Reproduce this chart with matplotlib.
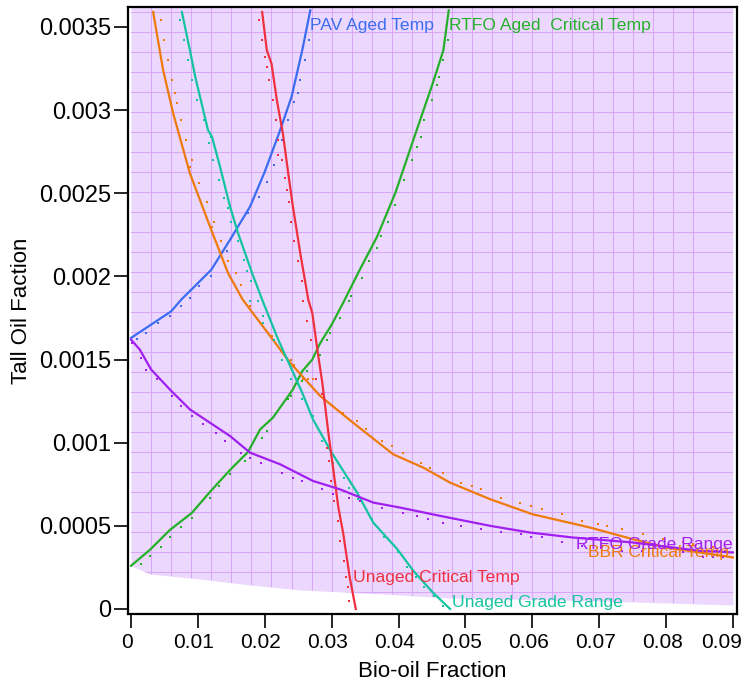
import matplotlib
matplotlib.use("Agg")
import matplotlib.pyplot as plt
import matplotlib.transforms as mtransforms
import numpy as np

plt.rcParams['font.family'] = ['Liberation Sans', 'DejaVu Sans']

# feasible region lower boundary
region_x = [0, 0.0028, 0.0103, 0.0178, 0.0253, 0.0327, 0.0402, 0.0477, 0.0551, 0.07, 0.09]
region_y = [0.00026, 0.00021, 0.00018, 0.000144, 0.000114, 0.0001, 0.000084, 0.000066, 0.00006, 0.000048, 0.000024]

# PAV Aged Temp (blue)
pav_x = [0, 0.003, 0.006, 0.0075, 0.0105, 0.012, 0.0148, 0.0178, 0.020, 0.0223, 0.024, 0.0256, 0.0268]
pav_y = [0.00163, 0.00171, 0.00179, 0.00186, 0.00198, 0.00204, 0.00222, 0.00242, 0.00263, 0.00288, 0.00308, 0.00336, 0.0036]
pav_dx = [0.0009, 0.0022, 0.004, 0.0058, 0.0075, 0.0088, 0.0102, 0.012, 0.0143, 0.0175, 0.0191, 0.0203,
          0.0214, 0.0226, 0.0235, 0.0244, 0.025, 0.0253, 0.026, 0.0266]
pav_dy = [0.001625, 0.00166, 0.00172, 0.00176, 0.00182, 0.00187, 0.00194, 0.002, 0.00215, 0.00238, 0.00248, 0.00257,
          0.00267, 0.00282, 0.00294, 0.00305, 0.0031, 0.00318, 0.0033, 0.00342]

# RTFO Aged Critical Temp (green)
rac_x = [0, 0.0028, 0.0058, 0.0091, 0.0118, 0.0148, 0.0175, 0.0193, 0.0212, 0.0242, 0.0256, 0.0271, 0.0283,
         0.030, 0.0317, 0.0342, 0.0368, 0.0395, 0.0422, 0.0451, 0.0467, 0.0475]
rac_y = [0.00026, 0.000355, 0.000475, 0.000578, 0.000704, 0.000836, 0.000945, 0.00108, 0.00115, 0.00132, 0.00143,
         0.0015, 0.0016, 0.00171, 0.00184, 0.00204, 0.00224, 0.0025, 0.00282, 0.00316, 0.00336, 0.0036]
rac_dx = [0.0015, 0.0028, 0.0045, 0.0058, 0.0075, 0.0091, 0.0118, 0.0132, 0.0148, 0.017, 0.0178, 0.0196, 0.0203,
          0.0235, 0.0239, 0.0256, 0.0263, 0.0283, 0.0293, 0.0297, 0.0312, 0.0326, 0.0329, 0.0345, 0.0356, 0.0368,
          0.0374, 0.0384, 0.0395, 0.0408, 0.042, 0.0428, 0.0433, 0.0438, 0.045, 0.0457, 0.046, 0.0466, 0.0474]
rac_dy = [0.00027, 0.00032, 0.00037, 0.00043, 0.00049, 0.00055, 0.00067, 0.00074, 0.00081, 0.00089, 0.00094,
          0.00103, 0.00107, 0.00126, 0.00128, 0.00137, 0.00143, 0.00153, 0.00162, 0.00166, 0.00175, 0.00185,
          0.00188, 0.00199, 0.00209, 0.00217, 0.00224, 0.00233, 0.00243, 0.00258, 0.0027, 0.00278, 0.00284,
          0.00294, 0.00306, 0.00315, 0.0032, 0.0033, 0.00342]

# BBR Critical Temp (orange)
bbr_x = [0.0033, 0.0048, 0.0063, 0.0088, 0.0118, 0.0145, 0.0167, 0.0197, 0.0238, 0.0283, 0.0332, 0.0392,
         0.0437, 0.0477, 0.0537, 0.060, 0.0686, 0.075, 0.080, 0.09]
bbr_y = [0.00359, 0.00324, 0.00298, 0.00262, 0.0023, 0.00202, 0.00186, 0.0017, 0.00148, 0.00128, 0.00112,
         0.00093, 0.00085, 0.00076, 0.00066, 0.00057, 0.00049, 0.00042, 0.00037, 0.00031]
bbr_dx = [0.0045, 0.0049, 0.0055, 0.0061, 0.0066, 0.0069, 0.0075, 0.0082, 0.0091, 0.0088, 0.0102, 0.0114,
          0.0124, 0.0121, 0.0135, 0.0145, 0.0157, 0.0164, 0.0178, 0.0178, 0.0197, 0.0197, 0.0211, 0.0239,
          0.0244, 0.0257, 0.0265, 0.0272, 0.0286, 0.0302, 0.0317, 0.0338, 0.0351, 0.0375, 0.039, 0.0407,
          0.0433, 0.0447, 0.0466, 0.0493, 0.051, 0.0523, 0.0553, 0.0581, 0.0598, 0.0614, 0.0644, 0.0674,
          0.0698, 0.0711, 0.0734, 0.0765, 0.0795, 0.0825, 0.084, 0.087, 0.0888]
bbr_dy = [0.00354, 0.00342, 0.0033, 0.00318, 0.0031, 0.00304, 0.00294, 0.00282, 0.0027, 0.00266, 0.00256,
          0.00245, 0.00233, 0.0023, 0.00221, 0.00209, 0.00202, 0.00195, 0.00185, 0.00182, 0.00176, 0.00172,
          0.00164, 0.0015, 0.00147, 0.00138, 0.00138, 0.00138, 0.00129, 0.00122, 0.00118, 0.00113, 0.00108,
          0.00101, 0.00098, 0.00094, 0.00088, 0.00085, 0.00082, 0.00076, 0.00074, 0.00072, 0.00067, 0.00064,
          0.00062, 0.0006, 0.00057, 0.00053, 0.00051, 0.0005, 0.00048, 0.00045, 0.00042, 0.0004, 0.00039,
          0.00037, 0.00035]

# Unaged Grade Range (teal)
ugr_x = [0.0076, 0.0088, 0.0096, 0.0115, 0.0121, 0.0133, 0.0148, 0.016, 0.0181, 0.0196, 0.022, 0.0238, 0.0256,
         0.0272, 0.030, 0.0338, 0.0362, 0.0398, 0.0422, 0.0451, 0.0477]
ugr_y = [0.00359, 0.00336, 0.0032, 0.00288, 0.00284, 0.00266, 0.00242, 0.00226, 0.00202, 0.00186, 0.00162,
         0.00146, 0.0013, 0.00114, 0.00094, 0.0007, 0.00052, 0.00036, 0.00023, 0.0001, 0.0]
ugr_dx = [0.0073, 0.0079, 0.0085, 0.0091, 0.0099, 0.0109, 0.0117, 0.012, 0.0123, 0.0132, 0.0139, 0.0145, 0.015,
          0.016, 0.0169, 0.0173, 0.0179, 0.0178, 0.019, 0.0197, 0.0197, 0.0214, 0.0226, 0.0239, 0.0256, 0.0272,
          0.0286, 0.0293, 0.0302, 0.0318, 0.0326, 0.0326, 0.0339, 0.036, 0.0378, 0.0399, 0.0413, 0.0426, 0.0438,
          0.0453, 0.0466]
ugr_dy = [0.00354, 0.00342, 0.0033, 0.00318, 0.00306, 0.00294, 0.0028, 0.00284, 0.0027, 0.00258, 0.00247,
          0.00241, 0.00233, 0.00221, 0.0021, 0.00203, 0.00197, 0.00185, 0.00185, 0.00176, 0.00172, 0.00162,
          0.0015, 0.00138, 0.00126, 0.00116, 0.00101, 0.00097, 0.00088, 0.00079, 0.00073, 0.00067, 0.00066,
          0.00054, 0.00043, 0.00034, 0.00025, 0.00019, 0.00013, 0.00008, 0.00002]

# Unaged Critical Temp (red)
uct_x = [0.0196, 0.0203, 0.021, 0.0218, 0.0227, 0.0235, 0.0242, 0.0253, 0.0265, 0.0271, 0.028, 0.0286, 0.0295,
         0.0302, 0.031, 0.0317, 0.0327, 0.0336]
uct_y = [0.00359, 0.00336, 0.00328, 0.00306, 0.00286, 0.00262, 0.00242, 0.00214, 0.00186, 0.00178, 0.00152,
         0.00136, 0.00106, 0.00085, 0.00061, 0.00046, 0.00019, 0.0]
uct_dx = [0.0191, 0.0196, 0.02, 0.0203, 0.0206, 0.0212, 0.0217, 0.022, 0.022, 0.0226, 0.023, 0.0233, 0.0236,
          0.0239, 0.0244, 0.025, 0.0256, 0.0257, 0.0263, 0.0269, 0.0277, 0.0286, 0.0293, 0.0296, 0.0299, 0.0303,
          0.0309, 0.0312, 0.0318, 0.0321, 0.0324, 0.0326]
uct_dy = [0.00354, 0.00342, 0.00332, 0.00326, 0.00318, 0.00306, 0.00294, 0.00282, 0.00273, 0.0027, 0.00259,
          0.00252, 0.00245, 0.00233, 0.00221, 0.00209, 0.00197, 0.00185, 0.00173, 0.00162, 0.00138, 0.00129,
          0.00097, 0.00089, 0.00077, 0.00065, 0.00053, 0.00041, 0.00029, 0.00019, 0.00013, 0.00005]

# RTFO Grade Range (purple)
rgr_x = [0, 0.0013, 0.003, 0.0058, 0.0088, 0.0118, 0.0148, 0.0178, 0.0223, 0.0272, 0.0312, 0.0362, 0.0402,
         0.0462, 0.0537, 0.0596, 0.066, 0.075, 0.085, 0.09]
rgr_y = [0.00162, 0.00156, 0.00144, 0.00132, 0.0012, 0.00112, 0.00104, 0.00094, 0.00087, 0.00077, 0.00072,
         0.00064, 0.00061, 0.00056, 0.0005, 0.00046, 0.00043, 0.0004, 0.00035, 0.00034]
rgr_dx = [0.0001, 0.0015, 0.0022, 0.0039, 0.0061, 0.0075, 0.0091, 0.0108, 0.0127, 0.014, 0.0164, 0.0178, 0.0194,
          0.0226, 0.0242, 0.0256, 0.0286, 0.0302, 0.0326, 0.0342, 0.0375, 0.0407, 0.0428, 0.0444, 0.0466, 0.0493,
          0.0523, 0.0553, 0.0583, 0.0598, 0.0614, 0.0644, 0.0674, 0.0704, 0.0734, 0.0764, 0.0825, 0.0855, 0.087,
          0.0885]
rgr_dy = [0.0016, 0.00151, 0.00144, 0.00138, 0.00128, 0.00122, 0.00116, 0.00111, 0.00106, 0.00101, 0.00094,
          0.00091, 0.00088, 0.00082, 0.00079, 0.00077, 0.00072, 0.00069, 0.00067, 0.00065, 0.00061, 0.00058,
          0.00056, 0.00054, 0.00052, 0.0005, 0.00048, 0.00046, 0.00045, 0.00043, 0.00043, 0.0004, 0.00038,
          0.00037, 0.00035, 0.00035, 0.00034, 0.00031, 0.00031, 0.00031]

xticks = [0, 0.01, 0.02, 0.03, 0.04, 0.05, 0.06, 0.07, 0.08, 0.09]
xticklabels = ['0', '0.01', '0.02', '0.03', '0.04', '0.05', '0.06', '0.07', '0.08', '0.09']
yticks = [0, 0.0005, 0.001, 0.0015, 0.002, 0.0025, 0.003, 0.0035]
yticklabels = ['0', '0.0005', '0.001', '0.0015', '0.002', '0.0025', '0.003', '0.0035']

ymax = 0.00362

fig = plt.figure(figsize=(7.47, 6.86), dpi=100)
ax = fig.add_axes([0.1714, 0.105, 0.8152, 0.8848])

# shaded region with a clipped mesh
fill = ax.fill_between(region_x, region_y, ymax, color='#ecd8fe', lw=0, zorder=0)
clip_path = fill.get_paths()[0]
for k in range(1, 29):
    ln, = ax.plot([0.003 * k] * 2, [0, ymax], color='#d7a6f7', lw=0.75, zorder=1)
    ln.set_clip_path(clip_path, ax.transData)
for k in range(0, 31):
    gy = 0.003592 - 0.0001203 * k
    ln, = ax.plot([0, 0.09], [gy, gy], color='#d7a6f7', lw=0.75, zorder=1)
    ln.set_clip_path(clip_path, ax.transData)

series = [
    (pav_x, pav_y, pav_dx, pav_dy, '#3b6cf2'),
    (rac_x, rac_y, rac_dx, rac_dy, '#25b02a'),
    (bbr_x, bbr_y, bbr_dx, bbr_dy, '#ee7a0c'),
    (ugr_x, ugr_y, ugr_dx, ugr_dy, '#14c4a0'),
    (uct_x, uct_y, uct_dx, uct_dy, '#f0303f'),
    (rgr_x, rgr_y, rgr_dx, rgr_dy, '#a11ff0'),
]
for sx, sy, dx, dy, c in series:
    ax.plot(sx, sy, color=c, lw=1.6, zorder=3)
    ax.plot(dx, dy, ls='none', marker='s', ms=2.0, mew=0, color=c, zorder=3)

fs = 12.6
ax.text(0.0268, 0.00351, 'PAV Aged Temp', color='#3b6cf2', fontsize=fs, va='center', ha='left')
ax.text(0.0475, 0.00351, 'RTFO Aged  Critical Temp', color='#25b02a', fontsize=fs, va='center', ha='left')
ax.text(0.0332, 0.00019, 'Unaged Critical Temp', color='#f0303f', fontsize=fs, va='center', ha='left')
ax.text(0.048, 0.00004, 'Unaged Grade Range', color='#14c4a0', fontsize=fs, va='center', ha='left')
ax.text(0.0683, 0.00034, 'BBR Critical Temp', color='#ee7a0c', fontsize=fs, va='center', ha='left', zorder=4)
ax.text(0.0666, 0.000385, 'RTFO Grade Range', color='#a11ff0', fontsize=fs, va='center', ha='left', zorder=5)

ax.set_xlim(-0.00045, 0.0906)
ax.set_ylim(-0.00003, ymax)
ax.set_xticks(xticks)
ax.set_xticklabels(xticklabels)
ax.set_yticks(yticks)
ax.set_yticklabels(yticklabels)
ax.tick_params(direction='out', length=10, width=1.2)
ax.tick_params(axis='y', labelsize=17, pad=2)
ax.tick_params(axis='x', labelsize=15, pad=4)
for s in ax.spines.values():
    s.set_linewidth(1.6)

# x tick labels sit a little left of their ticks; the last one is pulled inside the figure
for i, lab in enumerate(ax.get_xticklabels()):
    shift = -11 if i == len(xticks) - 1 else -4
    lab.set_transform(lab.get_transform() + mtransforms.ScaledTranslation(shift / 100, 0, fig.dpi_scale_trans))

ax.set_xlabel('Bio-oil Fraction', fontsize=16, labelpad=6)
ax.set_ylabel('Tall Oil Faction', fontsize=16, labelpad=5)

fig.savefig('out.png', dpi=100)
